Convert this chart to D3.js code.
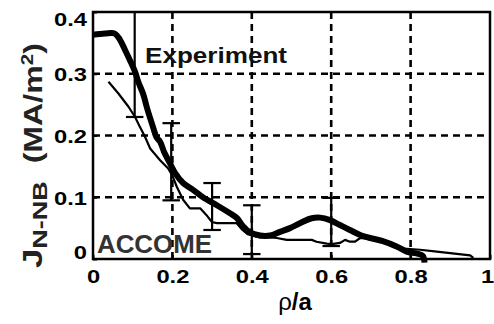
<!DOCTYPE html>
<html><head><meta charset="utf-8">
<script src="https://cdn.jsdelivr.net/npm/d3@7"></script>
<style>body{margin:0;background:#fff}svg{display:block}</style>
</head><body>
<svg id="c" width="494" height="324"></svg>
<script>
// ---- data ----
const xTicks = [0, 0.2, 0.4, 0.6, 0.8, 1];
const xTickLabels = ["0", "0.2", "0.4", "0.6", "0.8", "1"];
const yTicks = [0, 0.1, 0.2, 0.3, 0.4];
const yTickLabels = ["0", "0.1", "0.2", "0.3", "0.4"];
const gridX = [0.2, 0.4, 0.6, 0.8];
const gridY = [0.1, 0.2, 0.3];

// Experiment (thick curve)
const expRho = [0, 0.03, 0.055, 0.068, 0.081, 0.093, 0.106, 0.114, 0.127, 0.135, 0.144, 0.152, 0.16, 0.169, 0.18, 0.194, 0.207, 0.227, 0.252, 0.277, 0.312, 0.345, 0.363, 0.378, 0.395, 0.421, 0.446, 0.471, 0.496, 0.521, 0.551, 0.572, 0.597, 0.622, 0.647, 0.673, 0.698, 0.73, 0.766, 0.79, 0.815, 0.831, 0.835];
const expJ   = [0.363, 0.365, 0.365, 0.355, 0.338, 0.322, 0.303, 0.287, 0.266, 0.247, 0.228, 0.212, 0.197, 0.19, 0.172, 0.155, 0.139, 0.123, 0.112, 0.1, 0.087, 0.074, 0.066, 0.053, 0.043, 0.038, 0.038, 0.044, 0.05, 0.058, 0.066, 0.067, 0.063, 0.055, 0.047, 0.039, 0.034, 0.029, 0.02, 0.012, 0.009, 0.005, -0.006];

// ACCOME (thin curve)
const accRho = [0.039, 0.064, 0.089, 0.106, 0.118, 0.131, 0.144, 0.169, 0.19, 0.2, 0.211, 0.227, 0.244, 0.27, 0.286, 0.299, 0.312, 0.362, 0.375, 0.39, 0.42, 0.445, 0.463, 0.488, 0.551, 0.563, 0.589, 0.601, 0.622, 0.635, 0.647, 0.66, 0.673, 0.7, 0.73, 0.76, 0.782, 0.824, 0.866, 0.95, 0.958];
const accJ   = [0.287, 0.268, 0.247, 0.23, 0.214, 0.198, 0.179, 0.16, 0.146, 0.135, 0.117, 0.096, 0.082, 0.082, 0.071, 0.06, 0.058, 0.058, 0.048, 0.04, 0.035, 0.035, 0.034, 0.031, 0.031, 0.028, 0.025, 0.024, 0.026, 0.031, 0.028, 0.028, 0.034, 0.032, 0.027, 0.021, 0.017, 0.015, 0.012, 0.006, 0.002];

// Error bars
const errRho = [0.105, 0.197, 0.3, 0.4, 0.6];
const errLo  = [0.23, 0.095, 0.047, 0.008, 0.021];
const errHi  = [0.42, 0.22, 0.123, 0.087, 0.099];

// ---- layout ----
const svg = d3.select("#c");
const L = 93, R = 490, T = 12, B = 259;
const x = d3.scaleLinear().domain([0, 1]).range([L, R]);
const y = d3.scaleLinear().domain([0, 0.4]).range([B, T]);
const font = "'Liberation Sans', Arial, Helvetica, sans-serif";

svg.append("defs").append("clipPath").attr("id", "clip")
  .append("rect").attr("x", L).attr("y", T).attr("width", R - L).attr("height", B - T);

// grid
const grid = svg.append("g").attr("stroke", "#000").attr("stroke-width", 2.6).attr("stroke-dasharray", "7,5");
grid.selectAll(".gx").data(gridX).join("line")
  .attr("x1", d => x(d)).attr("x2", d => x(d)).attr("y1", B).attr("y2", T);
grid.selectAll(".gy").data(gridY).join("line")
  .attr("y1", d => y(d)).attr("y2", d => y(d)).attr("x1", L).attr("x2", R);

// text labels in plot
svg.append("text").attr("x", 145).attr("y", 63)
  .attr("font-family", font).attr("font-weight", "bold").attr("font-size", 22)
  .attr("textLength", 142).attr("lengthAdjust", "spacingAndGlyphs")
  .attr("fill", "#111").text("Experiment");
svg.append("text").attr("x", 97).attr("y", 253)
  .attr("font-family", font).attr("font-weight", "bold").attr("font-size", 25)
  .attr("textLength", 115).attr("lengthAdjust", "spacingAndGlyphs")
  .attr("fill", "#333").text("ACCOME");

// curves
const expData = expRho.map((r, i) => [r, expJ[i]]);
const accData = accRho.map((r, i) => [r, accJ[i]]);
const lineCR = d3.line().x(d => x(d[0])).y(d => y(d[1])).curve(d3.curveCatmullRom.alpha(0.5));
const lineLin = d3.line().x(d => x(d[0])).y(d => y(d[1]));

svg.append("path").datum(accData).attr("d", lineLin)
  .attr("fill", "none").attr("stroke", "#000").attr("stroke-width", 2.2).attr("stroke-linejoin", "round");
svg.append("path").datum(expData).attr("d", lineCR)
  .attr("fill", "none").attr("stroke", "#000").attr("stroke-width", 6).attr("stroke-linejoin", "round").attr("stroke-linecap", "butt");

// error bars
const eb = svg.append("g").attr("clip-path", "url(#clip)").attr("stroke", "#000").attr("stroke-width", 2.2);
const capW = 0.022;
errRho.forEach((r, i) => {
  eb.append("line").attr("x1", x(r)).attr("x2", x(r)).attr("y1", y(errLo[i])).attr("y2", y(errHi[i]));
  [errLo[i], errHi[i]].forEach(v => {
    eb.append("line").attr("x1", x(r - capW)).attr("x2", x(r + capW)).attr("y1", y(v)).attr("y2", y(v));
  });
});

// axes
const xAxis = d3.axisBottom(x).tickValues(xTicks).tickFormat((d, i) => xTickLabels[i]).tickSizeInner(-4).tickSizeOuter(0).tickPadding(11);
const yAxis = d3.axisLeft(y).tickValues(yTicks).tickFormat((d, i) => yTickLabels[i]).tickSizeInner(-4).tickSizeOuter(0).tickPadding(6);
const gx = svg.append("g").attr("transform", `translate(0,${B})`).call(xAxis);
const gy = svg.append("g").attr("transform", `translate(${L},0)`).call(yAxis);
[gx, gy].forEach(g => {
  g.select(".domain").remove();
  g.selectAll(".tick line").attr("stroke", "#000").attr("stroke-width", 2);
  g.selectAll(".tick text").attr("font-family", font).attr("font-weight", "bold")
    .attr("font-size", 19).attr("fill", "#000")
    .each(function () {
      const w = this.getComputedTextLength();
      d3.select(this).attr("textLength", w * 1.25).attr("lengthAdjust", "spacingAndGlyphs");
    });
});
gy.selectAll(".tick text").attr("dy", (d) => d === 0.4 ? "0.72em" : d === 0 ? "-0.02em" : "0.36em");
gx.selectAll(".tick text").filter(d => d === 1).attr("dx", -3);

// frame
svg.append("rect").attr("x", L).attr("y", T).attr("width", R - L).attr("height", B - T)
  .attr("fill", "none").attr("stroke", "#000").attr("stroke-width", 2.5);

// axis titles
const xt = svg.append("text").attr("x", 295).attr("y", 310).attr("text-anchor", "middle")
  .attr("font-family", font).attr("font-size", 24).attr("fill", "#000");
xt.append("tspan").text("ρ");
xt.append("tspan").attr("font-weight", "bold").text("/a");

const yt = svg.append("text").attr("transform", "translate(42,268) rotate(-90)")
  .attr("font-family", font).attr("font-weight", "bold").attr("fill", "#222")
  .attr("textLength", 225).attr("lengthAdjust", "spacingAndGlyphs");
yt.append("tspan").attr("font-size", 27).text("J");
yt.append("tspan").attr("font-size", 21).attr("dy", 5).text("N-NB");
yt.append("tspan").attr("font-size", 25).attr("dy", -5).text("\u00a0\u00a0(MA/m");
yt.append("tspan").attr("font-size", 16).attr("dy", -9).text("2");
yt.append("tspan").attr("font-size", 25).attr("dy", 9).text(")");
</script>
</body></html>
